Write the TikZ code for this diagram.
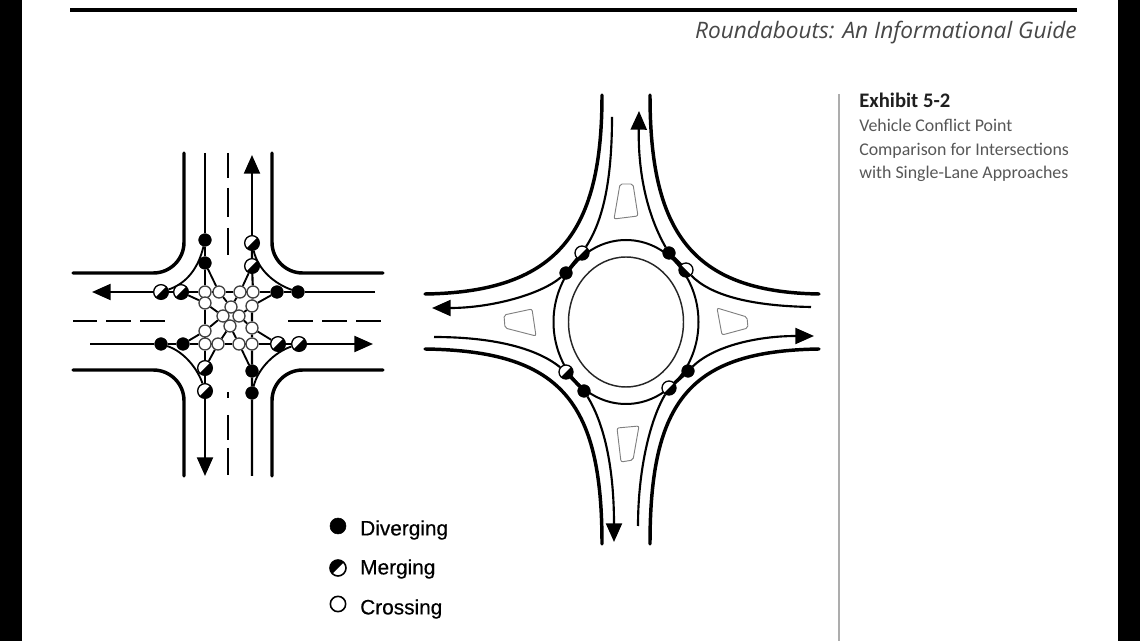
\documentclass[tikz,border=0pt]{standalone}
\usepackage{fontspec}
\setmainfont{Liberation Sans}
\newfontfamily\titlefont{Open Sans}
\newfontfamily\notefont{Carlito}
\newfontfamily\legendfont[FakeBold=0.5]{Liberation Sans}
\usetikzlibrary{arrows.meta,shapes.geometric,backgrounds}
\tikzset{
  curb/.style={line width=2.6pt,line cap=round},
  lane/.style={line width=1.6pt},
  turn/.style={line width=1.4pt},
  centreline/.style={line width=1.8pt},
  head/.style={-{Triangle[length=14pt,width=12pt]}},
  divdot/.style={circle,fill=black,draw=black,line width=.4pt,minimum size=9.5pt,inner sep=0pt},
  crossdot/.style={circle,fill=white,draw=black!75,line width=1pt,minimum size=9pt,inner sep=0pt},
  mergedot/.style={circle,fill=white,draw=black,line width=1pt,minimum size=11pt,inner sep=0pt,
    path picture={\fill[black,shift={(path picture bounding box.center)}] (#1-90:30) -- (#1:30) -- (#1+90:30) -- cycle;}},
  mergedot/.default=45,
  island/.style={draw=black!50,line width=.7pt,rounded corners=1.5pt},
  legendtext/.style={anchor=west,inner sep=0pt,font=\legendfont\fontsize{15.6pt}{18pt}\selectfont},
  notetext/.style={anchor=base west,inner sep=0pt,text=black!66,font=\notefont\fontsize{13.4pt}{17pt}\selectfont},
}
\begin{document}
\begin{tikzpicture}[x=0.75pt,y=-0.75pt]
\useasboundingbox (0,0) rectangle (1140,641);
\fill[black] (0,0) rectangle (22,641);
\fill[black] (1118,0) rectangle (1140,641);
\coordinate (ruleL) at (70,10); \coordinate (ruleR) at (1077,10);
\draw[line width=2.4pt] (ruleL) -- (ruleR);
\node[anchor=base east,inner sep=0pt,text=black!72,font=\titlefont\itshape\fontsize{17pt}{20pt}\selectfont] (title) at (1077,39) {Roundabouts: An Informational Guide};
\coordinate (sepT) at (839,94); \coordinate (sepB) at (839,641);
\draw[black!32,line width=1.5pt] (sepT) -- (sepB);
\node[notetext,text=black!88,font=\notefont\bfseries\fontsize{15.5pt}{17pt}\selectfont] (ex) at (859,108) {Exhibit 5-2};
\node[notetext] (n1) at (859,132) {Vehicle Conflict Point};
\node[notetext] (n2) at (859,156) {Comparison for Intersections};
\node[notetext] (n3) at (859,179) {with Single-Lane Approaches};

% ---------- conventional intersection: conflict points
\node[divdot] (dN1) at (205,240) {}; \node[divdot] (dN2) at (205,263) {};
\node[mergedot] (mN1) at (252,243) {}; \node[mergedot] (mN2) at (252,266) {};
\node[mergedot] (mW1) at (161,292) {}; \node[mergedot] (mW2) at (181,292) {};
\node[divdot] (dE2) at (277,292) {}; \node[divdot] (dE1) at (298,292) {};
\node[divdot] (dW1) at (161,344) {}; \node[divdot] (dW2) at (183,344) {};
\node[mergedot] (mE2) at (278,344) {}; \node[mergedot] (mE1) at (299,344) {};
\node[mergedot] (mS2) at (205,368) {}; \node[mergedot] (mS1) at (205,391) {};
\node[divdot] (dS2) at (252,371) {}; \node[divdot] (dS1) at (252,393) {};
\foreach \n/\x/\y in {a/205/292,b/219/292,c/240/292,d/253/292,e/205/303,f/231/307,g/252/306,h/223/316,i/239/316,j/230/326,k/205/331,l/252/328,m/205/344,o/218/344,p/239/344,q/252/344}
  \node[crossdot] (x\n) at (\x,\y) {};
% free ends
\coordinate (sT) at (205,153); \coordinate (sB) at (205,476);
\coordinate (nB) at (252,476); \coordinate (nT) at (252,155);
\coordinate (wR) at (375,292); \coordinate (wL) at (92,292);
\coordinate (eL) at (90,344); \coordinate (eR) at (373,344);
\begin{scope}[on background layer]
\draw[lane] (sT) -- (dN1) -- (dN2) -- (xa) -- (xe) -- (xk) -- (xm) -- (mS2) -- (mS1);
\draw[lane,head] (mS1) -- (sB);
\draw[lane] (nB) -- (dS1) -- (dS2) -- (xq) -- (xl) -- (xg) -- (xd) -- (mN2) -- (mN1);
\draw[lane,head] (mN1) -- (nT);
\draw[lane] (wR) -- (dE1) -- (dE2) -- (xd) -- (xc) -- (xb) -- (xa) -- (mW2) -- (mW1);
\draw[lane,head] (mW1) -- (wL);
\draw[lane] (eL) -- (dW1) -- (dW2) -- (xm) -- (xo) -- (xp) -- (xq) -- (mE2) -- (mE1);
\draw[lane,head] (mE1) -- (eR);
% left turns
\draw[turn] (dN2) -- (xb) -- (xf) -- (xi) -- (xl) -- (mE2);
\draw[turn] (dS2) -- (xp) -- (xj) -- (xh) -- (xe) -- (mW2);
\draw[turn] (dE2) -- (xg) -- (xi) -- (xj) -- (xo) -- (mS2);
\draw[turn] (dW2) -- (xk) -- (xh) -- (xf) -- (xc) -- (mN2);
% right turns
\draw[turn] (dN1) .. controls (198,270) and (185,284) .. (mW1);
\draw[turn] (dE1) .. controls (275,284) and (258,270) .. (mN1);
\draw[turn] (dW1) .. controls (185,352) and (198,370) .. (mS1);
\draw[turn] (dS1) .. controls (258,368) and (275,352) .. (mE1);
\end{scope}
% curbs
\coordinate (c1a) at (184,153); \coordinate (c1b) at (73,273);
\coordinate (c2a) at (272,153); \coordinate (c2b) at (383,273);
\coordinate (c3a) at (184,476); \coordinate (c3b) at (73,370);
\coordinate (c4a) at (272,476); \coordinate (c4b) at (383,370);
\draw[curb,rounded corners=23pt] (c1a) -- (184,273) -- (c1b);
\draw[curb,rounded corners=23pt] (c2a) -- (272,273) -- (c2b);
\draw[curb,rounded corners=23pt] (c3a) -- (184,370) -- (c3b);
\draw[curb,rounded corners=23pt] (c4a) -- (272,370) -- (c4b);
% centre lines
\foreach \a/\b in {153/178,188/217,228/255,392/398,415/440,448/475} {\draw[centreline] (228,\a) -- (228,\b);}
\foreach \a/\b in {73/97,106/131,140/165,288/313,322/347,356/381} {\draw[centreline] (\a,321) -- (\b,321);}

% ---------- roundabout
\node[ellipse,draw=black,line width=1.5pt,minimum width=108.75pt,minimum height=123pt,inner sep=0pt] (outer) at (626,322) {};
\node[ellipse,draw=black!85,line width=1.1pt,minimum width=86.25pt,minimum height=97.5pt,inner sep=0pt] (inner) at (626,322) {};
\node[mergedot=45,minimum size=10.5pt] (rm1) at (582,253) {};
\node[divdot] (rd1) at (566,273) {};
\node[divdot] (rd2) at (669,253) {};
\node[mergedot=135,minimum size=10.5pt] (rm2) at (686,270) {};
\node[mergedot=45,minimum size=10.5pt] (rm3) at (566,372) {};
\node[divdot] (rd3) at (584,391) {};
\node[mergedot=45,minimum size=10.5pt] (rm4) at (669,388) {};
\node[divdot] (rd4) at (688,371) {};
\coordinate (rnE) at (612,117); \coordinate (rnX) at (639,111);
\coordinate (rwX) at (432,308); \coordinate (reE) at (811,307);
\coordinate (rwE) at (434,337); \coordinate (rsX) at (614,542);
\coordinate (rsE) at (638,526); \coordinate (reX) at (814,336);
\begin{scope}[on background layer]
\draw[lane] (rnE) .. controls (612,190) and (600,225) .. (rm1);
\draw[lane,head] (rd2) .. controls (650,220) and (638,180) .. (rnX);
\draw[lane,head] (rd1) .. controls (540,295) and (490,308) .. (rwX);
\draw[lane] (reE) .. controls (750,306) and (710,295) .. (rm2);
\draw[lane] (rwE) .. controls (490,337) and (535,347) .. (rm3);
\draw[lane,head] (rd3) .. controls (605,425) and (614,470) .. (rsX);
\draw[lane] (rsE) .. controls (638,470) and (650,420) .. (rm4);
\draw[lane,head] (rd4) .. controls (715,345) and (760,336) .. (reX);
\draw[curb] (rm1) -- (rd1);
\draw[curb] (rd2) -- (rm2);
\draw[curb] (rm3) -- (rd3);
\draw[curb] (rm4) -- (rd4);
\end{scope}
\coordinate (k1a) at (602,95); \coordinate (k1b) at (425,294);
\coordinate (k2a) at (650,95); \coordinate (k2b) at (819,294);
\coordinate (k3a) at (602,544); \coordinate (k3b) at (425,349);
\coordinate (k4a) at (650,544); \coordinate (k4b) at (819,349);
\draw[curb] (k1a) .. controls (602,230) and (560,292) .. (k1b);
\draw[curb] (k2a) .. controls (650,230) and (690,292) .. (k2b);
\draw[curb] (k3a) .. controls (602,400) and (560,351) .. (k3b);
\draw[curb] (k4a) .. controls (650,400) and (690,351) .. (k4b);
\draw[island] (620,184) -- (633,184) -- (638,216) -- (614,219) -- cycle;
\draw[island] (504,315) -- (532,309) -- (536,336) -- (505,328) -- cycle;
\draw[island] (717,308) -- (747,317) -- (748,328) -- (722,335) -- cycle;
\draw[island] (617,428) -- (639,426) -- (633,460) -- (621,462) -- cycle;

% ---------- legend
\node[divdot,minimum size=12pt] (k1) at (338,526) {};
\node[mergedot=225,minimum size=12pt,line width=1.2pt] (k2) at (338,568) {};
\node[crossdot,draw=black,minimum size=11.5pt,line width=1.2pt] (k3) at (338,604) {};
\node[legendtext] (t1) at (360,530) {Diverging};
\node[legendtext] (t2) at (360,569) {Merging};
\node[legendtext] (t3) at (360,609) {Crossing};
\end{tikzpicture}
\end{document}
